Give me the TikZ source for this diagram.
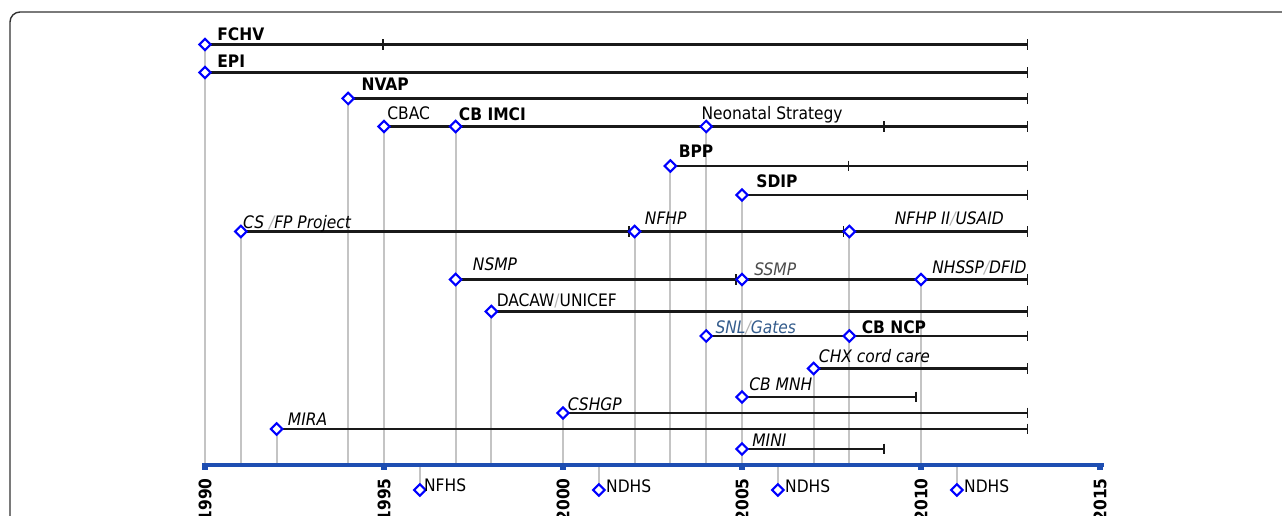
\documentclass[tikz,border=0pt]{standalone}
\usepackage{fontspec}
\setmainfont{DejaVu Sans Condensed}
\usepackage{tikz}
\usetikzlibrary{positioning}
\usetikzlibrary{shapes.geometric,arrows.meta}

\definecolor{axisblue}{RGB}{30,78,178}
\definecolor{markblue}{RGB}{0,0,255}
\definecolor{stemgray}{RGB}{196,196,196}
\definecolor{gatesblue}{RGB}{52,92,140}
\definecolor{framegray}{RGB}{50,50,50}

\newcommand{\gsl}{\textcolor{black!30}{/}}

\tikzset{
	prog/.style={diamond, aspect=1, draw=markblue, fill=white, line width=1.2pt, inner sep=0pt, minimum width=7pt, minimum height=7pt},
	run/.style={draw=black!90, line width=1.3pt, -{Bar[width=6pt,line width=1pt]}},
	runthick/.style={run, line width=1.7pt},
	stem/.style={draw=stemgray, line width=1.1pt},
	lbl/.style={anchor=base west, inner sep=0pt, font=\fontsize{9.8}{11}\selectfont},
	lblb/.style={lbl, font=\fontsize{9.8}{11}\selectfont\bfseries},
	lbli/.style={lbl, font=\fontsize{9.8}{11}\selectfont\itshape},
	yrlbl/.style={rotate=90, anchor=east, inner sep=0pt, font=\fontsize{9.8}{11}\selectfont\bfseries},
}

\begin{document}
\begin{tikzpicture}[x=0.716cm, y=1cm]
		
		% ---------------------
		% Proper size --- Bounding box
		\useasboundingbox (-4.10cm,-1.00cm) rectangle (21.54cm,9.30cm);
		\draw[framegray, line width=0.8pt, rounded corners=0.2cm] (-3.90cm,9.06cm) rectangle (22.60cm,-2.00cm);
		
		% ---------------------
		% Axis & programme starts
		\coordinate (Axis) at (0,0);
		\coordinate (AxisEnd) at (25,0);
		\coordinate (End) at (23,0);
		
		\coordinate (FCHV) at (0,8.41);
		\coordinate (EPI) at (0,7.85);
		\coordinate (NVAP) at (4,7.33);
		\coordinate (CBAC) at (5,6.77);
		\coordinate (IMCI) at (7,6.77);
		\coordinate (NeoS) at (14,6.77);
		\coordinate (BPP) at (13,5.98);
		\coordinate (SDIP) at (15,5.40);
		\coordinate (CSFP) at (1,4.67);
		\coordinate (NFHP) at (12,4.67);
		\coordinate (NFHPii) at (18,4.67);
		\coordinate (NSMP) at (7,3.71);
		\coordinate (SSMP) at (15,3.71);
		\coordinate (NHSSP) at (20,3.71);
		\coordinate (DACAW) at (8,3.07);
		\coordinate (SNL) at (14,2.58);
		\coordinate (NCP) at (18,2.58);
		\coordinate (CHX) at (17,1.93);
		\coordinate (MNH) at (15,1.36);
		\coordinate (CSHGP) at (10,1.04);
		\coordinate (MIRA) at (2,0.72);
		\coordinate (MINI) at (15,0.32);
		
		% surveys
		\coordinate (NFHS) at (6,-0.50);
		\coordinate (NDHSa) at (11,-0.50);
		\coordinate (NDHSb) at (16,-0.50);
		\coordinate (NDHSc) at (21,-0.50);
		
		% mid-line stops
		\coordinate (FCHVstop) at (5,8.41);
		\coordinate (CBACstop) at (19,6.77);
		\coordinate (BPPstop) at (18,5.98);
		\coordinate (MNHstop) at (19.89,1.36);
		\coordinate (MINIstop) at (19,0.32);
		\path (NFHP) +(-0.10cm,0) coordinate (NFHPin);
		\path (NFHPii) +(-0.10cm,0) coordinate (NFHPiiin);
		\path (SSMP) +(-0.10cm,0) coordinate (SSMPin);
		
		% ---------------------
		% Drop lines
		\foreach \p in {FCHV,CSFP,MIRA,NVAP,CBAC,IMCI,DACAW,CSHGP,NFHP,BPP,NeoS,SDIP,CHX,NFHPii,NHSSP}
			\draw[stem] (\p) -- (\p |- Axis);
		\foreach \p in {NFHS,NDHSa,NDHSb,NDHSc}
			\draw[stem] (\p |- Axis) -- (\p);
		
		% ---------------------
		% Time axis
		\draw[axisblue, line width=2.8pt] ([xshift=-0.06cm]Axis) -- ([xshift=0.07cm]AxisEnd);
		\foreach \t in {0,5,...,25}{
			\fill[axisblue] (\t,0) ++(-0.06cm,0) rectangle ++(0.12cm,-0.10cm);
			\pgfmathtruncatemacro{\yrlab}{1990+\t}
			\node[yrlbl] (Y\yrlab) at (\t,-0.26) {\yrlab};
		}
		
		% ---------------------
		% Programme runs
		\draw[run] (FCHV) -- (FCHVstop);
		\draw[run] (FCHVstop) -- (FCHV -| End);
		\draw[run] (EPI) -- (EPI -| End);
		\draw[run] (NVAP) -- (NVAP -| End);
		\draw[runthick] (CBAC) -- (CBACstop);
		\draw[run] (CBACstop) -- (CBAC -| End);
		\draw[runthick] (BPP) -- (BPPstop);
		\draw[run] (BPPstop) -- (BPP -| End);
		\draw[run] (SDIP) -- (SDIP -| End);
		\draw[run] (CSFP) -- (NFHPin);
		\draw[run] (NFHP) -- (NFHPiiin);
		\draw[run] (NFHPii) -- (NFHPii -| End);
		\draw[run] (NSMP) -- (SSMPin);
		\draw[run] (SSMP) -- (SSMP -| End);
		\draw[run] (DACAW) -- (DACAW -| End);
		\draw[run] (SNL) -- (SNL -| End);
		\draw[run] (CHX) -- (CHX -| End);
		\draw[run] (MNH) -- (MNHstop);
		\draw[run] (CSHGP) -- (CSHGP -| End);
		\draw[run] (MIRA) -- (MIRA -| End);
		\draw[run] (MINI) -- (MINIstop);
		
		% ---------------------
		% Start marks
		\foreach \p in {FCHV,EPI,NVAP,CBAC,IMCI,NeoS,BPP,SDIP,CSFP,NFHP,NFHPii,NSMP,SSMP,NHSSP,DACAW,SNL,NCP,CHX,MNH,CSHGP,MIRA,MINI,NFHS,NDHSa,NDHSb,NDHSc}
			\node[prog] (\p m) at (\p) {};
		
		% ---------------------
		% Labels
		\path (FCHV) +(0.24cm,0.08cm) node[lblb] (FCHVt) {FCHV};
		\path (EPI) +(0.24cm,0.09cm) node[lblb] (EPIt) {EPI};
		\path (NVAP) +(0.26cm,0.16cm) node[lblb] (NVAPt) {NVAP};
		\path (CBAC) +(0.06cm,0.14cm) node[lbl] (CBACt) {CBAC};
		\path (IMCI) +(0.06cm,0.12cm) node[lblb] (IMCIt) {CB IMCI};
		\path (NeoS) +(-0.10cm,0.14cm) node[lbl] (NeoSt) {Neonatal Strategy};
		\path (BPP) +(0.16cm,0.16cm) node[lblb] (BPPt) {BPP};
		\path (SDIP) +(0.28cm,0.14cm) node[lblb] (SDIPt) {SDIP};
		\path (CSFP) +(0.04cm,0.06cm) node[lbli] (CSFPt) {CS \gsl FP Project};
		\path (NFHP) +(0.20cm,0.13cm) node[lbli] (NFHPt) {NFHP};
		\path (NFHPii) +(0.90cm,0.13cm) node[lbli] (NFHPiit) {NFHP II\gsl USAID};
		\path (NSMP) +(0.34cm,0.17cm) node[lbli] (NSMPt) {NSMP};
		\path (SSMP) +(0.24cm,0.09cm) node[lbli, text=black!70] (SSMPt) {SSMP};
		\path (NHSSP) +(0.22cm,0.13cm) node[lbli] (NHSSPt) {NHSSP\gsl DFID};
		\path (DACAW) +(0.10cm,0.11cm) node[lbl] (DACAWt) {DACAW\gsl UNICEF};
		\path (SNL) +(0.18cm,0.05cm) node[lbli, text=gatesblue] (SNLt) {SNL\gsl Gates};
		\path (NCP) +(0.24cm,0.06cm) node[lblb] (NCPt) {CB NCP};
		\path (CHX) +(0.10cm,0.13cm) node[lbli] (CHXt) {CHX cord care};
		\path (MNH) +(0.14cm,0.14cm) node[lbli] (MNHt) {CB MNH};
		\path (CSHGP) +(0.09cm,0.06cm) node[lbli] (CSHGPt) {CSHGP};
		\path (MIRA) +(0.22cm,0.08cm) node[lbli] (MIRAt) {MIRA};
		\path (MINI) +(0.20cm,0.05cm) node[lbli] (MINIt) {MINI};
		
		\path (NFHS) +(0.08cm,-0.03cm) node[lbl] (NFHSt) {NFHS};
		\path (NDHSa) +(0.14cm,-0.05cm) node[lbl] (NDHSat) {NDHS};
		\path (NDHSb) +(0.14cm,-0.05cm) node[lbl] (NDHSbt) {NDHS};
		\path (NDHSc) +(0.14cm,-0.05cm) node[lbl] (NDHSct) {NDHS};
		
\end{tikzpicture}
\end{document}
